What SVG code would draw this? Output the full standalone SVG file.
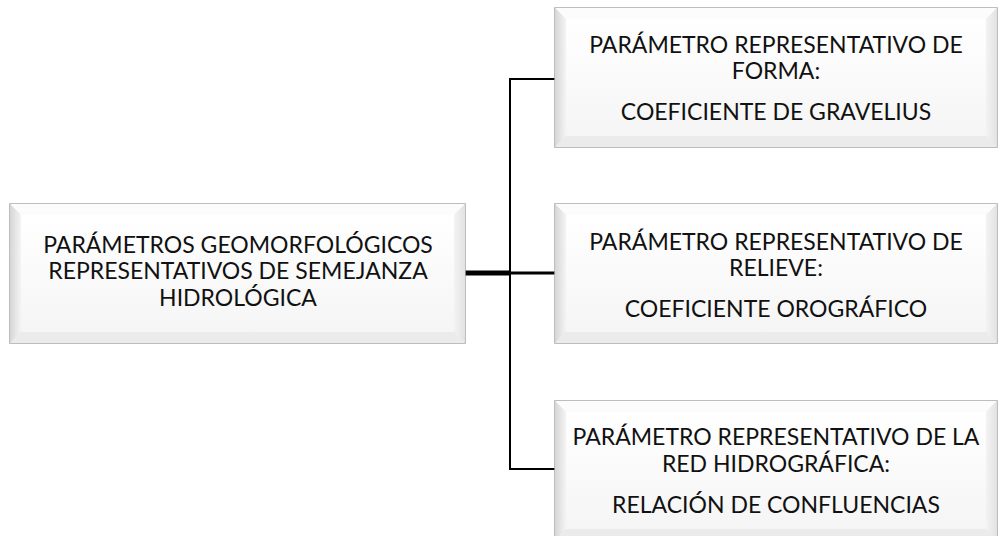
<svg xmlns="http://www.w3.org/2000/svg" width="999" height="536" viewBox="0 0 999 536">
<defs>
<linearGradient id="face" x1="0" y1="0" x2="0" y2="1">
<stop offset="0" stop-color="#ffffff"/>
<stop offset="1" stop-color="#f5f5f5"/>
</linearGradient>
<linearGradient id="lg" x1="0" y1="0" x2="1" y2="0">
<stop offset="0" stop-color="#d6d6d6"/>
<stop offset="1" stop-color="#f4f4f4"/>
</linearGradient>
<linearGradient id="rg" x1="0" y1="0" x2="1" y2="0">
<stop offset="0" stop-color="#f3f3f3"/>
<stop offset="1" stop-color="#e2e2e2"/>
</linearGradient>
<style>
.out{fill:#ededed;stroke:#a8a8a8;stroke-width:1.5}
.bt{fill:#fcfcfc}
.bl{fill:url(#lg)}
.br{fill:url(#rg)}
.bb{fill:#ebebeb}
.fc{fill:url(#face)}
text{font-family:Lato,"Open Sans","Liberation Sans",sans-serif;font-size:23px;fill:#111;text-anchor:middle}
.c{fill:none;stroke:#000}
</style>
</defs>
<g id="connectors">
<line class="c" x1="465" y1="273" x2="511" y2="273" stroke-width="5"/>
<line class="c" x1="510" y1="273" x2="555" y2="273" stroke-width="3"/>
<polyline class="c" points="555,79 510,79 510,469 555,469" stroke-width="2"/>
</g>
<g id="root" transform="translate(10,204)">
<rect class="out" x="0" y="0" width="455" height="139"/>
<path class="bt" d="M0,0H455L444,11H11Z"/>
<path class="bl" d="M0,0L11,11V128L0,139Z"/>
<path class="br" d="M455,0V139L444,128V11Z"/>
<path class="bb" d="M0,139H455L444,128H11Z"/>
<rect class="fc" x="11" y="11" width="433" height="117"/>
<text x="228" y="49">PARÁMETROS GEOMORFOLÓGICOS</text>
<text x="228" y="75">REPRESENTATIVOS DE SEMEJANZA</text>
<text x="228" y="102">HIDROLÓGICA</text>
</g>
<g id="forma" transform="translate(555,8)">
<rect class="out" x="0" y="0" width="442" height="139"/>
<path class="bt" d="M0,0H442L431,11H11Z"/>
<path class="bl" d="M0,0L11,11V128L0,139Z"/>
<path class="br" d="M442,0V139L431,128V11Z"/>
<path class="bb" d="M0,139H442L431,128H11Z"/>
<rect class="fc" x="11" y="11" width="420" height="117"/>
<text x="221" y="45">PARÁMETRO REPRESENTATIVO DE</text>
<text x="221" y="71">FORMA:</text>
<text x="221" y="112">COEFICIENTE DE GRAVELIUS</text>
</g>
<g id="relieve" transform="translate(555,204)">
<rect class="out" x="0" y="0" width="442" height="139"/>
<path class="bt" d="M0,0H442L431,11H11Z"/>
<path class="bl" d="M0,0L11,11V128L0,139Z"/>
<path class="br" d="M442,0V139L431,128V11Z"/>
<path class="bb" d="M0,139H442L431,128H11Z"/>
<rect class="fc" x="11" y="11" width="420" height="117"/>
<text x="221" y="46">PARÁMETRO REPRESENTATIVO DE</text>
<text x="221" y="72">RELIEVE:</text>
<text x="221" y="113">COEFICIENTE OROGRÁFICO</text>
</g>
<g id="red" transform="translate(555,401)">
<rect class="out" x="0" y="0" width="442" height="139"/>
<path class="bt" d="M0,0H442L431,11H11Z"/>
<path class="bl" d="M0,0L11,11V128L0,139Z"/>
<path class="br" d="M442,0V139L431,128V11Z"/>
<path class="bb" d="M0,139H442L431,128H11Z"/>
<rect class="fc" x="11" y="11" width="420" height="117"/>
<text x="221" y="44">PARÁMETRO REPRESENTATIVO DE LA</text>
<text x="221" y="71">RED HIDROGRÁFICA:</text>
<text x="221" y="112">RELACIÓN DE CONFLUENCIAS</text>
</g>
</svg>
